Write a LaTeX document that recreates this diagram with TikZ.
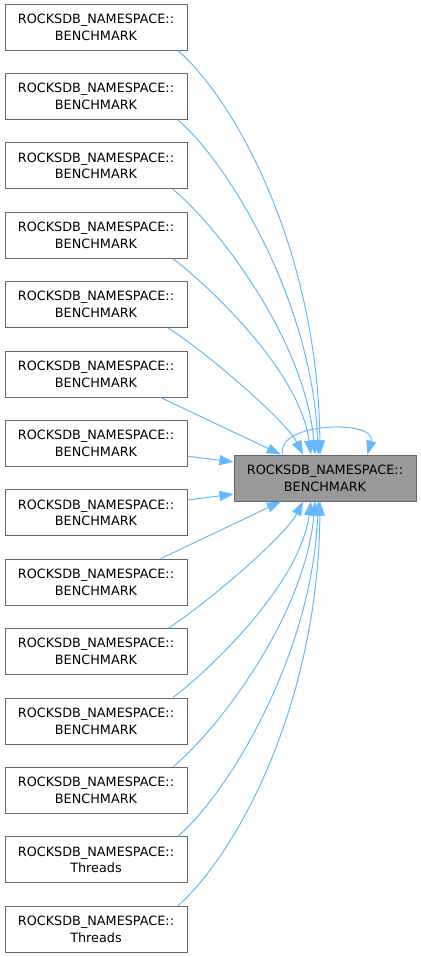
\documentclass[tikz,border=0pt]{standalone}
\usepackage{fontspec}
\setmainfont{DejaVu Sans}
\usetikzlibrary{positioning,arrows.meta}
\definecolor{edgeblue}{HTML}{63B8FF}
\definecolor{boxline}{HTML}{666666}
\definecolor{curfill}{HTML}{999999}

\begin{document}
\begin{tikzpicture}[x=0.75pt, y=-0.75pt, node distance=52.05pt,
    >={Triangle[length=10.5pt,width=7.5pt]},
    fn/.style={draw=boxline, fill=white, line width=0.75pt, minimum width=136.5pt,
        minimum height=34.5pt, inner sep=0pt, align=center,
        font=\fontsize{9.6pt}{12.6pt}\selectfont},
    cur/.style={fn, fill=curfill},
    call/.style={->, draw=edgeblue, line width=0.75pt}]
    \useasboundingbox (0,0) rectangle (421,957);

    \node[fn] (n0) at (96,27) {ROCKSDB\_NAMESPACE::\\BENCHMARK};
    \node[fn, below of=n0] (n1) {ROCKSDB\_NAMESPACE::\\BENCHMARK};
    \node[fn, below of=n1] (n2) {ROCKSDB\_NAMESPACE::\\BENCHMARK};
    \node[fn, below of=n2] (n3) {ROCKSDB\_NAMESPACE::\\BENCHMARK};
    \node[fn, below of=n3] (n4) {ROCKSDB\_NAMESPACE::\\BENCHMARK};
    \node[fn, below of=n4] (n5) {ROCKSDB\_NAMESPACE::\\BENCHMARK};
    \node[fn, below of=n5] (n6) {ROCKSDB\_NAMESPACE::\\BENCHMARK};
    \node[fn, below of=n6] (n7) {ROCKSDB\_NAMESPACE::\\BENCHMARK};
    \node[fn, below of=n7] (n8) {ROCKSDB\_NAMESPACE::\\BENCHMARK};
    \node[fn, below of=n8] (n9) {ROCKSDB\_NAMESPACE::\\BENCHMARK};
    \node[fn, below of=n9] (n10) {ROCKSDB\_NAMESPACE::\\BENCHMARK};
    \node[fn, below of=n10] (n11) {ROCKSDB\_NAMESPACE::\\BENCHMARK};
    \node[fn, below of=n11] (n12) {ROCKSDB\_NAMESPACE::\\Threads};
    \node[fn, below of=n12] (n13) {ROCKSDB\_NAMESPACE::\\Threads};

    \node[cur] (bm) at (325,478) {ROCKSDB\_NAMESPACE::\\BENCHMARK};

    % callers above
    \draw[call] (n0.-16.6) .. controls +(57,50) and +(-2,-205) .. (bm.102.3);
    \draw[call] (n1.-16.6) .. controls +(49,42) and +(-6,-155) .. (bm.106.9);
    \draw[call] (n2.-17) .. controls +(44,36) and +(-10,-115) .. (bm.113.5);
    \draw[call] (n3.-17.3) .. controls +(30,22) and +(-11,-85) .. (bm.121.3);
    \draw[call] (n4.-18.4) .. controls +(35,22) and +(-18,-35) .. (bm.133.7);
    \draw[call] (n5.-20.35) -- (bm.152.9);
    \draw[call] (n6.-8.5) -- (bm.170.6);
    % callers below
    \draw[call] (n7.8.5) -- (bm.-170.6);
    \draw[call] (n8.20.35) -- (bm.-152.9);
    \draw[call] (n9.18.4) .. controls +(35,-22) and +(-18,35) .. (bm.-133.7);
    \draw[call] (n10.17.3) .. controls +(30,-22) and +(-11,85) .. (bm.-121.3);
    \draw[call] (n11.17) .. controls +(44,-36) and +(-10,115) .. (bm.-113.5);
    \draw[call] (n12.16.6) .. controls +(49,-42) and +(-6,155) .. (bm.-106.9);
    \draw[call] (n13.16.6) .. controls +(57,-50) and +(-2,205) .. (bm.-102.3);

    % recursion
    \draw[call] (bm.151.9) .. controls +(-7,-33) and +(10,-35) .. (bm.29.9);
\end{tikzpicture}
\end{document}
